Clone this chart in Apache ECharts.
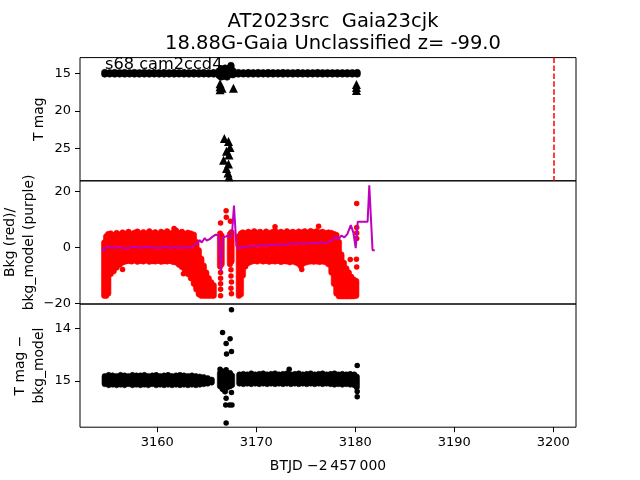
<!DOCTYPE html>
<html>
<head>
<meta charset="utf-8">
<script src="https://cdn.jsdelivr.net/npm/echarts@6/dist/echarts.min.js"></script>
<style>
  html, body { margin: 0; padding: 0; background: #fff; }
  #lc { width: 640px; height: 480px; }
</style>
</head>
<body>
<div id="lc"></div>
<script>
// tick labels
const xTicks = [3160, 3170, 3180, 3190, 3200]
const magTicks = [15, 20, 25]
const bkgTicks = [-20, 0, 20]
const diffTicks = [14, 15]

// T mag detections, read as columns [BTJD, mag top, mag bottom] of overlapping dots
const magBand = [
  [3154.7,14.9,15.1],[3155.2,14.92,15.08],[3155.7,14.9,15.1],[3156.2,14.91,15.09],[3156.7,14.9,15.1],
  [3157.2,14.92,15.08],[3157.7,14.9,15.1],[3158.2,14.91,15.1],[3158.7,14.9,15.09],[3159.2,14.92,15.1],
  [3159.7,14.9,15.08],[3160.2,14.91,15.1],[3160.7,14.9,15.1],[3161.2,14.92,15.09],[3161.7,14.9,15.1],
  [3162.2,14.91,15.08],[3162.7,14.9,15.1],[3163.2,14.92,15.1],[3163.7,14.9,15.09],[3164.2,14.91,15.1],
  [3164.7,14.9,15.08],[3165.2,14.92,15.1],[3165.7,14.9,15.1],
  [3166.25,14.7,15.3],[3166.45,14.4,15.5],[3166.65,14.6,15.4],[3166.85,14.3,15.3],[3167.05,14.5,15.5],
  [3167.25,14.3,15.2],[3167.45,13.95,15.0],[3167.65,14.7,15.2],
  [3168.2,14.9,15.1],[3168.7,14.92,15.08],[3169.2,14.9,15.1],[3169.7,14.91,15.09],[3170.2,14.9,15.1],
  [3170.7,14.92,15.08],[3171.2,14.9,15.1],[3171.7,14.91,15.09],[3172.2,14.92,15.08],[3172.7,14.9,15.1],
  [3173.2,14.91,15.08],[3173.7,14.92,15.09],[3174.2,14.9,15.08],[3174.7,14.92,15.08],[3175.2,14.91,15.09],
  [3175.7,14.92,15.08],[3176.2,14.9,15.08],[3176.7,14.92,15.09],[3177.2,14.91,15.08],[3177.7,14.92,15.08],
  [3178.2,14.91,15.09],[3178.7,14.92,15.08],[3179.2,14.91,15.08],[3179.7,14.92,15.09],[3180.2,14.9,15.1]
]
// upper limits (triangles)
const magLimits = [
  [3166.35,16.4],[3166.35,16.8],[3166.35,17.2],[3166.55,17.0],[3167.7,17.0],
  [3166.78,23.7],[3167.2,24.1],[3167.35,24.9],[3167.0,25.4],[3167.25,25.9],
  [3166.7,26.6],[3167.2,27.1],[3167.0,27.7],[3167.15,28.3],[3167.25,28.8],
  [3180.12,16.5],[3180.12,16.9],[3180.12,17.3]
]
const discoveryT = 3200.1

// background flux, columns [BTJD, low, high] of overlapping red dots
const bkgBand = [
  [3154.65,-17.3,1.8],[3154.85,-17.3,4.0],[3155.05,-16.5,4.8],[3155.3,-9.5,5.0],[3155.6,-8.5,4.4],
  [3155.9,-7.2,5.2],[3156.2,-6.2,4.7],[3156.5,-5.4,5.4],[3156.8,-5.0,4.9],[3157.1,-4.8,5.6],
  [3157.4,-5.0,4.8],[3157.7,-4.7,5.3],[3158.0,-5.1,5.7],[3158.3,-4.8,5.0],[3158.6,-5.0,5.5],
  [3158.9,-4.7,4.9],[3159.2,-5.1,5.8],[3159.5,-4.9,5.1],[3159.8,-5.0,5.5],[3160.1,-4.8,4.8],
  [3160.4,-5.1,5.6],[3160.7,-4.9,5.2],[3161.0,-5.0,5.8],[3161.3,-4.8,5.0],[3161.6,-5.2,5.4],
  [3161.9,-5.4,6.1],[3162.2,-6.2,5.2],[3162.5,-7.0,5.6],[3162.8,-8.2,4.9],[3163.1,-9.5,5.3],
  [3163.4,-11.0,5.0],[3163.7,-13.0,4.6],[3163.95,-15.0,2.0],[3164.2,-16.8,-1.0],[3164.45,-17.3,-4.0],
  [3164.7,-17.3,-6.5],[3164.95,-17.3,-9.0],[3165.2,-17.3,-11.0],[3165.45,-17.3,-12.5],[3165.7,-17.3,-13.5],
  [3166.35,-6.8,5.0],[3166.5,-6.0,4.2],[3167.35,-6.0,4.8],[3167.5,-5.0,5.5],
  [3168.25,-17.3,4.0],[3168.45,-16.8,5.0],[3168.65,-10.0,5.4],[3168.9,-6.8,5.0],[3169.2,-5.6,5.6],
  [3169.5,-5.1,5.2],[3169.8,-4.8,5.8],[3170.1,-5.0,5.3],[3170.4,-4.7,5.6],[3170.7,-5.0,5.0],
  [3171.0,-4.8,5.7],[3171.3,-5.1,5.2],[3171.6,-4.9,5.5],[3171.9,-5.0,6.0],[3172.2,-4.8,5.3],
  [3172.5,-5.2,5.6],[3172.8,-4.9,5.1],[3173.1,-5.0,5.8],[3173.4,-5.3,5.3],[3173.7,-5.0,5.6],
  [3174.0,-5.4,5.2],[3174.3,-5.9,5.7],[3174.6,-6.2,5.4],[3174.9,-5.5,5.8],[3175.2,-5.2,5.3],
  [3175.5,-5.0,5.9],[3175.8,-5.1,5.5],[3176.1,-5.0,5.8],[3176.4,-5.2,5.4],[3176.7,-5.0,5.6],
  [3177.0,-5.3,5.2],[3177.3,-6.0,5.4],[3177.6,-9.0,5.2],[3177.85,-13.0,4.8],[3178.1,-16.5,4.5],
  [3178.35,-17.5,2.0],[3178.6,-17.5,-2.5],[3178.85,-17.5,-5.5],[3179.1,-17.5,-7.5],[3179.35,-17.5,-9.0],
  [3179.6,-17.5,-10.5],[3179.85,-17.5,-11.5],[3180.1,-17.3,-12.0]
]
const bkgDots = [
  [3156.5,-7.9],[3161.7,6.8],[3162.6,-6.9],[3162.65,-9.4],
  [3166.4,8.8],[3166.4,-9.0],[3166.4,-11.0],[3166.4,-13.0],[3166.4,-15.0],[3166.4,-17.3],
  [3166.96,13.2],[3166.98,10.8],
  [3167.4,9.4],[3167.45,-8.0],[3167.45,-10.2],[3167.5,-12.4],[3167.45,-14.6],[3167.5,-16.6],
  [3171.9,7.4],[3176.3,7.6],[3174.5,-6.8],[3174.6,-7.9],
  [3179.5,-4.3],[3180.15,15.8],[3180.15,7.2],[3180.15,5.2],[3180.15,3.2],[3180.12,-4.2],[3180.15,-7.0]
]
// background model (purple line)
const bkgModel = [
  [3154.45,-0.6],[3154.55,-1.4],[3154.85,0.3],[3155.3,0.1],[3155.8,-0.2],[3156.3,0.2],[3156.8,-0.4],
  [3157.3,0.0],[3157.8,0.3],[3158.3,-0.2],[3158.8,0.3],[3159.3,-0.1],[3159.8,0.1],[3160.3,-0.3],
  [3160.8,0.3],[3161.3,-0.1],[3161.8,0.1],[3162.3,-0.2],[3162.8,0.1],[3163.3,0.0],[3163.7,0.4],
  [3164.0,1.5],[3164.3,2.6],[3164.5,1.8],[3164.8,3.4],[3165.0,2.5],[3165.3,3.0],[3165.6,3.9],
  [3165.9,4.6],[3166.2,4.4],[3166.35,4.8],[3166.45,-8.5],[3166.6,3.6],[3166.9,3.9],[3167.2,4.3],
  [3167.4,3.4],[3167.55,4.6],[3167.75,15.0],[3167.85,14.5],[3168.0,0.5],[3168.3,-0.6],[3168.6,0.4],
  [3169.0,0.2],[3169.5,0.6],[3170.0,0.4],[3170.5,0.9],[3171.0,0.6],[3171.5,1.1],[3172.0,0.8],
  [3172.5,1.3],[3173.0,0.9],[3173.5,1.5],[3174.0,1.2],[3174.5,1.6],[3175.0,1.2],[3175.5,1.7],
  [3176.0,1.4],[3176.5,1.8],[3177.0,1.6],[3177.5,2.2],[3177.8,3.0],[3178.0,4.0],[3178.3,2.8],
  [3178.6,4.3],[3178.9,3.6],[3179.2,4.8],[3179.55,8.0],[3179.8,5.5],[3180.05,-0.2],[3180.25,9.2],
  [3181.25,9.2],[3181.42,22.3],[3181.75,-1.0],[3181.98,-1.0]
]

// T mag - bkg_model
const diffBand = [
  [3154.7,14.91,15.06],[3155.1,14.89,15.08],[3155.5,14.9,15.07],[3155.9,14.91,15.08],[3156.3,14.89,15.07],
  [3156.7,14.9,15.08],[3157.1,14.91,15.06],[3157.5,14.89,15.08],[3157.9,14.9,15.07],[3158.3,14.9,15.08],
  [3158.7,14.89,15.07],[3159.1,14.91,15.08],[3159.5,14.9,15.06],[3159.9,14.89,15.08],[3160.3,14.91,15.07],
  [3160.7,14.9,15.08],[3161.1,14.89,15.07],[3161.5,14.91,15.08],[3161.9,14.9,15.07],[3162.3,14.89,15.08],
  [3162.7,14.9,15.07],[3163.1,14.91,15.08],[3163.5,14.9,15.07],[3163.9,14.91,15.08],[3164.3,14.92,15.07],
  [3164.7,14.93,15.06],[3165.1,14.95,15.05],[3165.5,14.98,15.03],
  [3166.35,14.85,15.1],[3166.6,14.82,15.15],[3166.85,14.88,15.2],[3167.1,14.86,15.12],[3167.35,14.85,15.1],
  [3167.55,14.9,15.08],
  [3168.3,14.88,15.05],[3168.7,14.87,15.06],[3169.1,14.88,15.05],[3169.5,14.86,15.06],[3169.9,14.88,15.05],
  [3170.3,14.87,15.06],[3170.7,14.86,15.05],[3171.1,14.88,15.06],[3171.5,14.87,15.05],[3171.9,14.86,15.06],
  [3172.3,14.88,15.05],[3172.7,14.87,15.06],[3173.1,14.86,15.05],[3173.5,14.88,15.06],[3173.9,14.87,15.05],
  [3174.3,14.86,15.06],[3174.7,14.88,15.05],[3175.1,14.87,15.06],[3175.5,14.86,15.05],[3175.9,14.88,15.06],
  [3176.3,14.87,15.05],[3176.7,14.86,15.06],[3177.1,14.88,15.05],[3177.5,14.87,15.06],[3177.9,14.86,15.07],
  [3178.3,14.88,15.06],[3178.7,14.87,15.07],[3179.1,14.88,15.06],[3179.5,14.87,15.07],[3179.9,14.88,15.08],
  [3180.15,14.92,15.12]
]
const diffDots = [
  [3167.5,13.65],[3166.6,14.08],[3167.36,14.2],[3166.96,14.29],[3167.5,14.44],[3167.0,14.49],
  [3166.35,14.78],[3166.96,14.79],[3173.33,14.78],[3180.2,14.71],[3167.5,15.22],[3166.6,15.16],
  [3166.96,15.33],[3167.3,15.46],[3166.92,15.46],[3167.55,15.46],[3166.96,15.8],[3180.2,15.2],[3180.2,15.3]
]

const FONT = 'DejaVu Sans'
const GL = 80, GW = 496, GH = 123.2
const tops = [57.6, 180.8, 304]

// a column of overlapping dots, drawn as a rounded bar through the axis scales
const bandSeries = (data, idx, color, w) => ({
  type: 'custom',
  xAxisIndex: idx,
  yAxisIndex: idx,
  data: data,
  encode: { x: 0, y: [1, 2] },
  clip: true,
  renderItem: (params, api) => {
    const a = api.coord([api.value(0), api.value(1)])
    const b = api.coord([api.value(0), api.value(2)])
    const y0 = Math.min(a[1], b[1]) - w / 2
    return {
      type: 'rect',
      shape: { x: a[0] - w / 2, y: y0, width: w, height: Math.abs(a[1] - b[1]) + w, r: w / 2 },
      style: { fill: color, stroke: color, lineWidth: 0.6 }
    }
  }
})

const xAxis = (idx) => ({
  type: 'value',
  gridIndex: idx,
  min: 3152.2,
  max: 3202.3,
  axisLine: { show: false },
  splitLine: { show: false },
  axisTick: { show: idx === 2, customValues: xTicks, length: 5, lineStyle: { color: '#000' } },
  axisLabel: {
    show: idx === 2, customValues: xTicks, margin: 9, color: '#000', fontSize: 13, fontFamily: FONT,
    formatter: v => String(v)
  },
  name: idx === 2 ? 'BTJD \u22122\u2009457\u2009000' : '',
  nameLocation: 'middle',
  nameGap: 32,
  nameMoveOverlap: false,
  nameTextStyle: { color: '#000', fontSize: 13.9, fontFamily: FONT }
})

const yAxis = (idx, min, max, inverse, ticks, name, gap) => ({
  type: 'value',
  gridIndex: idx,
  min: min,
  max: max,
  inverse: inverse,
  axisLine: { show: false },
  splitLine: { show: false },
  axisTick: { show: true, customValues: ticks, length: 5, lineStyle: { color: '#000' } },
  axisLabel: { customValues: ticks, margin: 9, color: '#000', fontSize: 13, fontFamily: FONT, formatter: v => String(v).replace('-', '\u2212') },
  name: name,
  nameLocation: 'middle',
  nameRotate: 90,
  nameGap: gap,
  nameMoveOverlap: false,
  nameTextStyle: { color: '#000', fontSize: 13.9, fontFamily: FONT, lineHeight: 19 }
})

const chart = echarts.init(document.getElementById('lc'))
chart.setOption({
  animation: false,
  backgroundColor: '#fff',
  textStyle: { fontFamily: FONT },
  title: {
    text: 'AT2023src  Gaia23cjk\n18.88G-Gaia Unclassified z= -99.0',
    left: 328,
    top: 6,
    textAlign: 'center',
    textStyle: { fontSize: 19.5, fontWeight: 'normal', color: '#000', lineHeight: 22, fontFamily: FONT }
  },
  graphic: [{
    type: 'text',
    left: 105,
    top: 57,
    z: 100,
    style: { text: 's68 cam2ccd4', fontSize: 16.2, fontFamily: FONT, fill: '#000' }
  }],
  grid: tops.map(t => ({
    left: GL, top: t, width: GW, height: GH,
    containLabel: false, outerBoundsMode: 'none',
    show: true, borderColor: '#000', borderWidth: 1, backgroundColor: 'transparent'
  })),
  xAxis: [xAxis(0), xAxis(1), xAxis(2)],
  yAxis: [
    yAxis(0, 12.9, 29.35, true, magTicks, 'T mag', 31),
    yAxis(1, -20.25, 23.9, false, bkgTicks, 'Bkg (red)/\nbkg_model (purple)', 41),
    yAxis(2, 13.54, 15.88, true, diffTicks, 'T mag \u2212\nbkg_model', 31)
  ],
  series: [
    bandSeries(magBand, 0, '#000', 6.5),
    {
      type: 'scatter',
      xAxisIndex: 0,
      yAxisIndex: 0,
      data: magLimits,
      symbol: 'triangle',
      symbolSize: 9,
      itemStyle: { color: '#000', opacity: 1 },
      markLine: {
        silent: true,
        symbol: 'none',
        label: { show: false },
        lineStyle: { color: '#ff0000', type: [5.5, 2.4], width: 1.5, opacity: 1 },
        data: [{ xAxis: discoveryT }]
      }
    },
    bandSeries(bkgBand, 1, '#ff0000', 5.5),
    {
      type: 'scatter',
      xAxisIndex: 1,
      yAxisIndex: 1,
      data: bkgDots,
      symbolSize: 5.5,
      itemStyle: { color: '#ff0000', opacity: 1 }
    },
    {
      type: 'line',
      xAxisIndex: 1,
      yAxisIndex: 1,
      data: bkgModel,
      showSymbol: false,
      lineStyle: { color: '#bf00bf', width: 2 },
      z: 5
    },
    bandSeries(diffBand, 2, '#000', 5.5),
    {
      type: 'scatter',
      xAxisIndex: 2,
      yAxisIndex: 2,
      data: diffDots,
      symbolSize: 5.5,
      itemStyle: { color: '#000', opacity: 1 }
    }
  ]
})
</script>
</body>
</html>
